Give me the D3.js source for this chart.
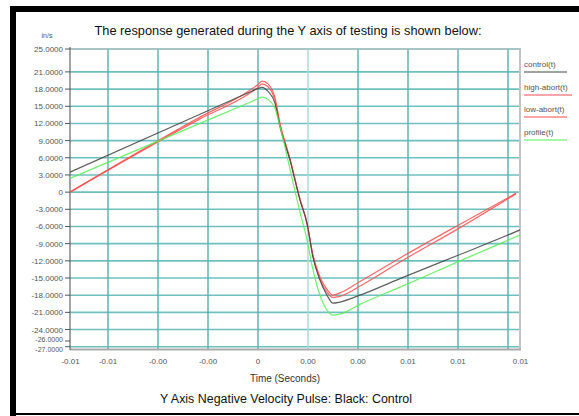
<!DOCTYPE html>
<html><head><meta charset="utf-8">
<script src="https://cdn.jsdelivr.net/npm/d3@7/dist/d3.min.js"></script>
<style>body{margin:0;background:#fff}svg{display:block}</style>
</head><body>
<script>
// ---- data ----
const times = [-0.00752,-0.00232,-0.00032,0.00000,0.00016,0.00040,0.00068,0.00088,0.00128,0.00168,0.00196,0.00220,0.00248,0.00276,0.00300,0.00328,0.00408,0.00568,0.00808,0.01032,0.01048];
const control   = [3.5,13.6,17.5,18.1,18.3,17.6,15.5,11.4,5.6,-1.4,-5.4,-11.4,-15.4,-18.0,-19.4,-19.2,-18.0,-15.1,-10.9,-6.9,-6.6];
const highAbort = [0,13.1,17.8,18.8,19.4,18.9,16.5,12.0,5.8,-1.2,-5.4,-11.0,-14.8,-17.0,-18.0,-17.6,-15.6,-11.5,-5.6,-0.2,null];
const lowAbort  = [0,12.8,17.3,18.3,18.9,18.4,16.0,11.8,5.7,-1.3,-5.5,-11.2,-15.2,-17.5,-18.4,-18.2,-16.4,-12.2,-6.2,-0.3,null];
const profile   = [2.4,12.0,15.7,16.3,16.6,16.2,14.6,11.5,4.0,-3.5,-8.3,-13.6,-18.0,-20.6,-21.5,-21.3,-19.6,-16.6,-12.0,-7.8,-7.5];
const seriesNames = ["control(t)","high-abort(t)","low-abort(t)","profile(t)"];
const seriesColors = ["#444444","#ff4d4d","#ff4d4d","#55ee55"];
const yTicks = [25,21,18,15,12,9,6,3,0,-3,-6,-9,-12,-15,-18,-21,-24,-26,-27];
const yTickLabels = ["25.0000","21.0000","18.0000","15.0000","12.0000","9.0000","6.0000","3.0000","0","-3.0000","-6.0000","-9.0000","-12.0000","-15.0000","-18.0000","-21.0000","-24.0000","-26.0000","-27.0000"];
const xTicks = [-0.0075,-0.006,-0.004,-0.002,0,0.002,0.004,0.006,0.008,0.0105];
const xTickLabels = ["-0.01","-0.01","-0.00","-0.00","0","0.00","0.00","0.01","0.01","0.01"];
const xGrid = [-0.006,-0.004,-0.002,0,0.002,0.004,0.006,0.008,0.010];
const yGrid = [25,21,18,15,12,9,6,3,0,-3,-6,-9,-12,-15,-18,-21,-24,-27];

const W=579,H=416;
const svg=d3.select("body").append("svg").attr("width",W).attr("height",H);
const x=d3.scaleLinear().domain([-0.00752,0.01048]).range([70,520]);
const y=d3.scaleLinear().domain([-27.4,25]).range([349,49]);
const font="'Liberation Sans Narrow','Liberation Sans',Arial,sans-serif";

// frame
svg.append("rect").attr("x",10).attr("y",6).attr("width",W-10).attr("height",6).attr("fill","#000");
svg.append("rect").attr("x",10).attr("y",6).attr("width",6).attr("height",H-6).attr("fill","#000");
svg.append("rect").attr("x",10).attr("y",413).attr("width",W-10).attr("height",2).attr("fill","#000");

// title
svg.append("text").attr("x",288).attr("y",35).attr("text-anchor","middle")
  .attr("font-family",font).attr("font-size",13).attr("fill","#111")
  .attr("textLength",387).attr("lengthAdjust","spacingAndGlyphs")
  .text("The response generated during the Y axis of testing is shown below:");

// grid
const g=svg.append("g");
g.selectAll(".hg").data(yGrid).join("line")
  .attr("x1",70).attr("x2",520).attr("y1",d=>y(d)).attr("y2",d=>y(d))
  .attr("stroke","#6fbfbf").attr("stroke-width",1.6);
g.selectAll(".vg").data(xGrid).join("line")
  .attr("x1",d=>x(d)).attr("x2",d=>x(d)).attr("y1",49).attr("y2",349)
  .attr("stroke",(d)=>d===0.002?"#a9d8d8":"#5aaeae").attr("stroke-width",1.4);

// frame lines
svg.append("line").attr("x1",520).attr("x2",520).attr("y1",48).attr("y2",350).attr("stroke","#c4c4c4").attr("stroke-width",2);
svg.append("line").attr("x1",70).attr("x2",521).attr("y1",49).attr("y2",49).attr("stroke","#bbbbbb").attr("stroke-width",1);
svg.append("line").attr("x1",70).attr("x2",521).attr("y1",349.5).attr("y2",349.5).attr("stroke","#aaaaaa").attr("stroke-width",2);
svg.append("line").attr("x1",70).attr("x2",70).attr("y1",47).attr("y2",350).attr("stroke","#666").attr("stroke-width",1.2);

// y axis ticks & labels
svg.selectAll(".yt").data(yTicks).join("line")
  .attr("x1",65).attr("x2",70).attr("y1",d=>y(d)).attr("y2",d=>y(d)).attr("stroke","#555");
const nudge = d => d===-26 ? -1.8 : (d===-27 ? 1.8 : 0);
svg.selectAll(".yl").data(yTicks).join("text")
  .attr("x",63).attr("y",d=>y(d)+3+nudge(d)).attr("text-anchor","end")
  .attr("font-family",font).attr("font-size",d=>(d===-26||d===-27)?7:8).attr("fill","#555")
  .text((d,i)=>yTickLabels[i]);
svg.append("text").attr("x",47).attr("y",38).attr("text-anchor","middle")
  .attr("font-family",font).attr("font-size",7).attr("fill","#555").text("in/s");

// x labels
svg.selectAll(".xl").data(xTicks).join("text")
  .attr("x",d=>x(d)).attr("y",364).attr("text-anchor","middle")
  .attr("font-family",font).attr("font-size",8).attr("fill","#555")
  .text((d,i)=>xTickLabels[i]);
svg.append("text").attr("x",285).attr("y",382).attr("text-anchor","middle")
  .attr("font-family",font).attr("font-size",10).attr("fill","#333")
  .attr("textLength",70).attr("lengthAdjust","spacingAndGlyphs").text("Time (Seconds)");
svg.append("text").attr("x",286).attr("y",403).attr("text-anchor","middle")
  .attr("font-family",font).attr("font-size",12.5).attr("fill","#111")
  .attr("textLength",252).attr("lengthAdjust","spacingAndGlyphs")
  .text("Y Axis Negative Velocity Pulse: Black: Control");

// lines
const data=[control,highAbort,lowAbort,profile];
const line=d3.line().defined(d=>d[1]!==null).x(d=>x(d[0])).y(d=>y(d[1])).curve(d3.curveMonotoneX);
[1,2,0,3].forEach(k=>{
  const pts=times.map((t,i)=>[t,data[k][i]]);
  svg.append("path").attr("d",line(pts)).attr("fill","none")
    .attr("stroke",seriesColors[k]).attr("stroke-width",1.2).attr("stroke-opacity",0.85);
});

// legend
const legY=[67,90,112,135];
seriesNames.forEach((n,i)=>{
  svg.append("text").attr("x",524).attr("y",legY[i]).attr("font-family",font)
    .attr("font-size",8).attr("fill","#555").text(n);
  svg.append("line").attr("x1",524).attr("x2",i===1?572:567).attr("y1",legY[i]+5).attr("y2",legY[i]+5)
    .attr("stroke",seriesColors[i]).attr("stroke-width",1.2);
});
</script>
</body></html>
